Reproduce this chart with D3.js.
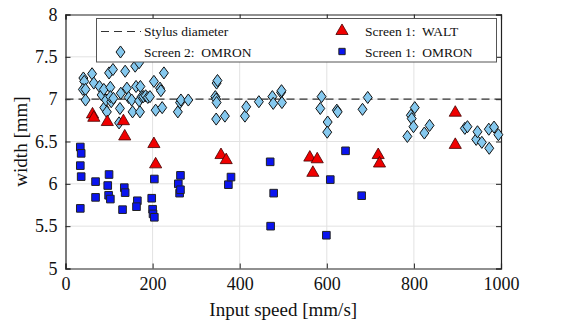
<!DOCTYPE html>
<html>
<head>
<meta charset="utf-8">
<script src="https://cdn.jsdelivr.net/npm/d3@7"></script>
<style>
  body { margin: 0; background: #fff; }
  svg { display: block; }
  svg text { font-family: "Times New Roman", "Liberation Serif", Times, serif; }
</style>
</head>
<body>
<svg width="563" height="323"></svg>
<script>
// Screen 2: OMRON (diamonds)
var omron2Speed = [41, 43, 40, 46, 46, 61, 65, 78, 83, 88, 89, 93, 95, 100, 109, 103, 105, 103, 110, 123,
    125, 127, 137, 141, 145, 152, 154, 160, 162, 169, 171, 172, 175, 179, 184, 189, 194, 169, 203, 207,
    217, 219, 222, 226, 258, 263, 265, 282, 347, 349, 344, 346, 347, 346, 366, 412, 415, 444, 475, 477,
    495, 496, 497, 588, 585, 602, 601, 623, 625, 682, 694, 785, 793, 795, 799, 802, 824, 836, 917, 923,
    943, 946, 956, 972, 973, 984, 994];
var omron2Width = [7.25, 7.21, 7.115, 7.115, 6.99, 7.30, 7.19, 7.15, 7.05, 7.115, 6.90, 6.99, 6.85, 7.31, 7.35, 7.14, 6.97, 7.03, 7.01, 6.72,
    6.89, 7.07, 7.33, 7.13, 7.02, 6.99, 6.85, 7.39, 7.15, 6.98, 6.85, 7.15, 7.03, 7.03, 7.04, 7.02, 7.03, 7.43, 7.21, 6.87,
    7.13, 7.10, 6.90, 7.31, 6.85, 6.96, 6.99, 6.99, 7.19, 7.22, 7.03, 7.00, 6.96, 6.765, 6.80, 6.80, 6.91, 6.97, 7.03, 6.95,
    7.08, 7.10, 6.96, 7.03, 6.89, 6.73, 6.61, 6.87, 6.85, 6.88, 7.02, 6.56, 6.81, 6.77, 6.675, 6.90, 6.60, 6.69, 6.655, 6.675,
    6.525, 6.615, 6.49, 6.645, 6.42, 6.67, 6.58];

// Screen 1: OMRON (squares)
var omron1Speed = [34, 36, 34, 36, 34, 69, 69, 100, 97, 99, 103, 135, 137, 131, 165, 163, 198, 200, 201, 204,
    204, 259, 262, 264, 264, 374, 380, 470, 471, 478, 599, 608, 643, 680];
var omron1Width = [6.435, 6.36, 6.215, 6.085, 5.71, 6.026, 5.84, 6.11, 5.98, 5.865, 5.82, 5.955, 5.896, 5.695, 5.80, 5.73, 5.83, 5.70, 5.645, 5.605,
    6.057, 6.0, 5.89, 5.93, 6.10, 5.99, 6.08, 6.26, 5.50, 5.89, 5.393, 6.05, 6.39, 5.86];

// Screen 1: WALT (triangles)
var waltSpeed = [62, 65, 96, 133, 136, 203, 207, 357, 369, 561, 578, 568, 718, 721, 895, 895];
var waltWidth = [6.82, 6.78, 6.73, 6.74, 6.56, 6.47, 6.23, 6.34, 6.28, 6.31, 6.29, 6.13, 6.34, 6.24, 6.84, 6.46];

var stylusDiameter = 7;
var xTicks = [0, 200, 400, 600, 800, 1000];
var yTicks = [5, 5.5, 6, 6.5, 7, 7.5, 8];

var serif = "'Times New Roman', 'Liberation Serif', Times, serif";
var svg = d3.select("svg");
var pLeft = 65.5, pRight = 501, pTop = 14.5, pBottom = 268.5;

var x = d3.scaleLinear().domain([0, 1000]).range([pLeft, pRight]);
var y = d3.scaleLinear().domain([5, 8]).range([pBottom, pTop]);

// grid
svg.append("g").selectAll("line")
    .data(xTicks.slice(1, -1))
    .enter().append("line")
    .attr("x1", function(d) { return x(d); }).attr("x2", function(d) { return x(d); })
    .attr("y1", pTop).attr("y2", pBottom)
    .attr("stroke", "#e2e2e2").attr("stroke-width", 1);
svg.append("g").selectAll("line")
    .data(yTicks.slice(1, -1))
    .enter().append("line")
    .attr("x1", pLeft).attr("x2", pRight)
    .attr("y1", function(d) { return y(d); }).attr("y2", function(d) { return y(d); })
    .attr("stroke", "#e2e2e2").attr("stroke-width", 1);

// axes, ticks inward
svg.append("g")
    .attr("transform", "translate(0," + pBottom + ")")
    .call(d3.axisBottom(x).tickValues(xTicks).tickSize(-5).tickPadding(9).tickFormat(d3.format("d")));
svg.append("g")
    .attr("transform", "translate(0," + pTop + ")")
    .call(d3.axisTop(x).tickValues(xTicks).tickSize(-5).tickFormat(""));
svg.append("g")
    .attr("transform", "translate(" + pLeft + ",0)")
    .call(d3.axisLeft(y).tickValues(yTicks).tickSize(-5).tickPadding(8).tickFormat(function(d) { return d; }));
svg.append("g")
    .attr("transform", "translate(" + pRight + ",0)")
    .call(d3.axisRight(y).tickValues(yTicks).tickSize(-5).tickFormat(""));

svg.selectAll("g").attr("font-family", serif);
svg.selectAll(".domain").attr("stroke", "#222").attr("stroke-width", 1.2);
svg.selectAll(".tick line").attr("stroke", "#222");
svg.selectAll(".tick text").attr("fill", "#111").attr("font-size", 18).attr("font-family", serif);

// stylus diameter
svg.append("line")
    .attr("x1", pLeft).attr("x2", pRight)
    .attr("y1", y(stylusDiameter)).attr("y2", y(stylusDiameter))
    .attr("stroke", "#333").attr("stroke-width", 1.1)
    .attr("stroke-dasharray", "8,5");

// diamond a bit wider than d3's built-in one
var wideDiamond = {
    draw: function(ctx, size) {
        var h = Math.sqrt(size) * 0.78, w = h * 0.74;
        ctx.moveTo(0, -h); ctx.lineTo(w, 0); ctx.lineTo(0, h); ctx.lineTo(-w, 0); ctx.closePath();
    }
};
var diamond = d3.symbol().type(wideDiamond).size(60);
var square = d3.symbol().type(d3.symbolSquare).size(58);
var triangle = d3.symbol().type(d3.symbolTriangle).size(64);

var omron2 = d3.zip(omron2Speed, omron2Width);
var omron1 = d3.zip(omron1Speed, omron1Width);
var walt = d3.zip(waltSpeed, waltWidth);

svg.append("g").selectAll("path")
    .data(omron2)
    .enter().append("path")
    .attr("d", diamond)
    .attr("transform", function(d) { return "translate(" + x(d[0]) + "," + y(d[1]) + ")"; })
    .attr("fill", "#85c8ee").attr("stroke", "#111").attr("stroke-width", 1);

svg.append("g").selectAll("path")
    .data(omron1)
    .enter().append("path")
    .attr("d", square)
    .attr("transform", function(d) { return "translate(" + x(d[0]) + "," + y(d[1]) + ")"; })
    .attr("fill", "#0a14f0").attr("stroke", "#222").attr("stroke-width", 1);

svg.append("g").selectAll("path")
    .data(walt)
    .enter().append("path")
    .attr("d", triangle)
    .attr("transform", function(d) { return "translate(" + x(d[0]) + "," + y(d[1]) + ")"; })
    .attr("fill", "#f00000").attr("stroke", "#400").attr("stroke-width", 0.8);

// legend
var legend = svg.append("g");
legend.append("rect")
    .attr("x", 96.5).attr("y", 18.5).attr("width", 400).attr("height", 43.5)
    .attr("fill", "#fff").attr("stroke", "#555").attr("stroke-width", 1);

legend.append("line")
    .attr("x1", 101).attr("x2", 141).attr("y1", 31.5).attr("y2", 31.5)
    .attr("stroke", "#333").attr("stroke-width", 1.1).attr("stroke-dasharray", "8,5");
legend.append("path").attr("d", diamond)
    .attr("transform", "translate(120.5,52)")
    .attr("fill", "#85c8ee").attr("stroke", "#111");
legend.append("path").attr("d", triangle)
    .attr("transform", "translate(342,31)")
    .attr("fill", "#f00000").attr("stroke", "#400").attr("stroke-width", 0.8);
legend.append("path").attr("d", d3.symbol().type(d3.symbolSquare).size(40))
    .attr("transform", "translate(342,51.5)")
    .attr("fill", "#0a14f0").attr("stroke", "#222");

var legendText = [
    { label: "Stylus diameter", x: 144, y: 36 },
    { label: "Screen 2:\u00a0 OMRON", x: 144, y: 57 },
    { label: "Screen 1:\u00a0 WALT", x: 365, y: 36 },
    { label: "Screen 1:\u00a0 OMRON", x: 365, y: 57 }
];
legend.selectAll("text")
    .data(legendText)
    .enter().append("text")
    .attr("x", function(d) { return d.x; })
    .attr("y", function(d) { return d.y; })
    .attr("font-size", 13.5)
    .attr("font-family", serif)
    .attr("fill", "#111")
    .text(function(d) { return d.label; });

// axis labels
svg.append("text")
    .attr("x", (pLeft + pRight) / 2).attr("y", 316)
    .attr("text-anchor", "middle")
    .attr("font-size", 19).attr("font-family", serif).attr("fill", "#111")
    .text("Input speed [mm/s]");
svg.append("text")
    .attr("transform", "translate(27," + ((pTop + pBottom) / 2) + ") rotate(-90)")
    .attr("text-anchor", "middle")
    .attr("font-size", 19).attr("font-family", serif).attr("fill", "#111")
    .text("width [mm]");
</script>
</body>
</html>
